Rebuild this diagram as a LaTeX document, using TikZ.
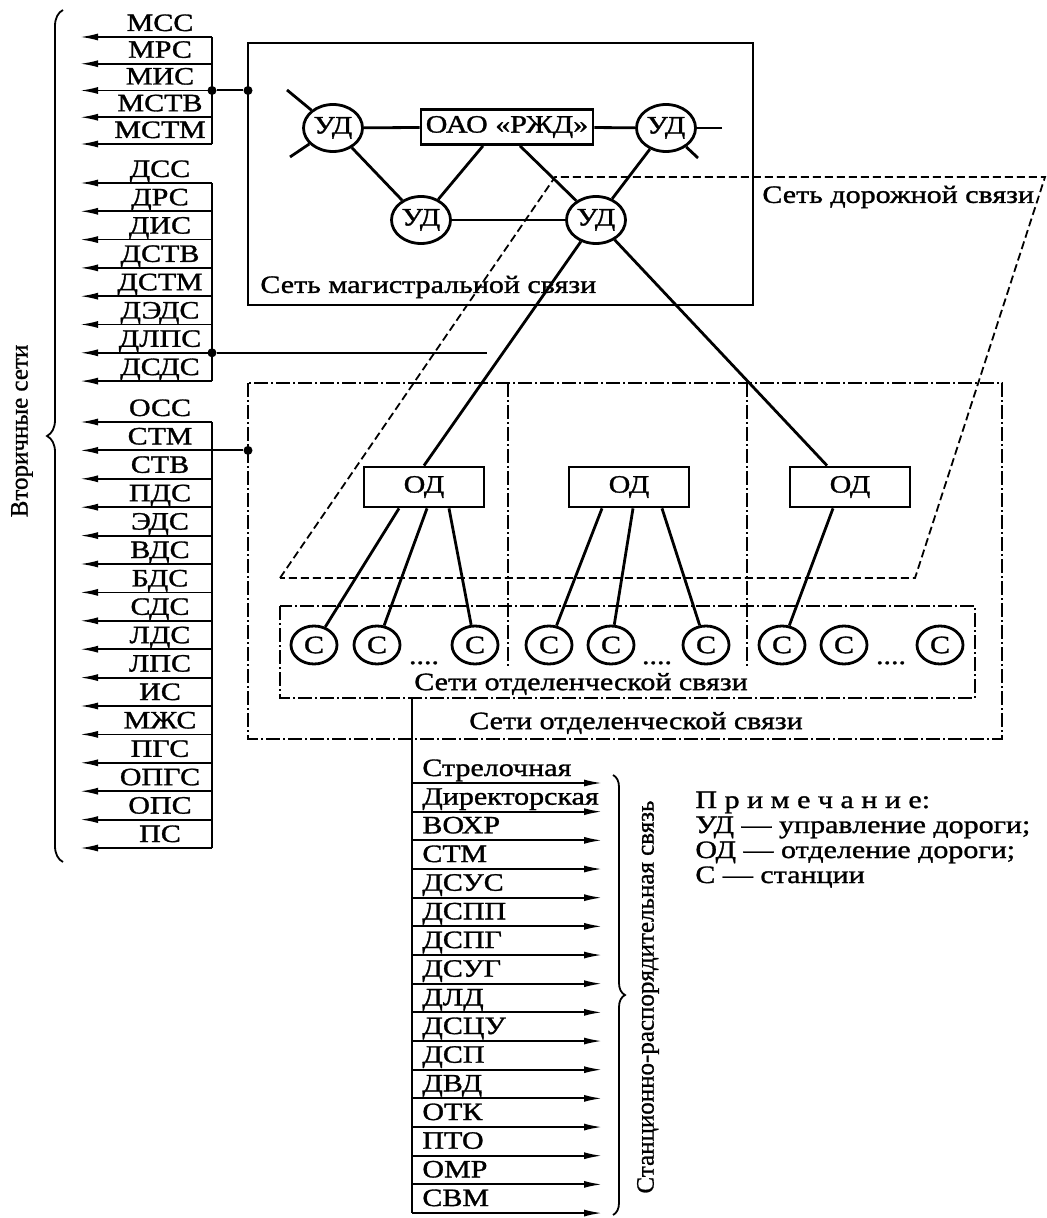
\documentclass[tikz,border=0pt]{standalone}
\usepackage{fontspec}
\setmainfont{Liberation Serif}[FakeStretch=1.2,FakeBold=1.2]
\newfontfamily\rotfont{Liberation Serif}[FakeBold=1]
\usetikzlibrary{arrows.meta,decorations.pathreplacing,shapes.geometric,positioning}

\tikzset{
  net/.style={line width=1.4pt},
  udnode/.style={ellipse,draw,line width=1.4pt,minimum width=29.5pt,minimum height=23.5pt,inner sep=0pt},
  stnode/.style={ellipse,draw,line width=1.4pt,minimum width=23pt,minimum height=19pt,inner sep=0pt},
  odbox/.style={draw,line width=1.4pt,minimum width=60pt,minimum height=20pt,inner sep=0pt},
  lbl/.style={inner sep=0pt,anchor=base},
  larrow/.style={line width=0.9pt,-{Latex[length=9pt,width=3.5pt]}},
  roaddash/.style={line width=0.9pt,dash pattern=on 4pt off 2pt},
  divdash/.style={line width=0.9pt,dash pattern=on 7pt off 1.5pt on 1pt off 1.5pt},
  jdot/.style={circle,fill,inner sep=0pt,minimum size=4.5pt},
  rotlbl/.style={rotate=90,inner sep=0pt,font=\rotfont\fontsize{12.5}{14}\selectfont},
}

\begin{document}
\begin{tikzpicture}[x=0.5pt,y=-0.5pt,font=\fontsize{12.5}{14}\selectfont]
  \useasboundingbox (0,0) rectangle (1047,1218);

  % trunk network
  \draw[net] (248,43) rectangle (753,305);
  \node[inner sep=0pt,anchor=west] (trunkname) at (260,287) {Сеть магистральной связи};
  \node[odbox,minimum width=86pt,minimum height=17.5pt] (rzd) at (507,127) {ОАО «РЖД»};
  \node[udnode] (ud1) at (333,128) {УД};
  \node[udnode] (ud2) at (666,128) {УД};
  \node[udnode] (ud3) at (421,220) {УД};
  \node[udnode] (ud4) at (596,220) {УД};
  \coordinate (ud1nw) at (287,90);
  \coordinate (ud1sw) at (290,157);
  \coordinate (ud2e) at (722,128);
  \coordinate (ud2se) at (698,158);
  \draw[net] (ud1nw) -- (ud1);
  \draw[net] (ud1sw) -- (ud1);
  \draw[net] (ud2e) -- (ud2);
  \draw[net] (ud2se) -- (ud2);
  \draw[net] (ud1) -- (rzd);
  \draw[net] (rzd) -- (ud2);
  \draw[net] (ud1) -- (ud3);
  \draw[net] (ud3) -- (ud4);
  \draw[net] (ud2) -- (ud4);
  \draw[net] ([xshift=-12pt]rzd.south) -- (ud3);
  \draw[net] ([xshift=6.5pt]rzd.south) -- (ud4);

  % road network
  \draw[roaddash] (280,578) -- (555,177) -- (1045,177) -- (915,578) -- cycle;
  \node[inner sep=0pt,anchor=west] (roadname) at (762,197) {Сеть дорожной связи};

  % division networks
  \draw[divdash] (248,383) rectangle (1002,739);
  \draw[divdash] (508,383) -- (508,667);
  \draw[divdash] (747,383) -- (747,667);
  \draw[divdash] (280,606) rectangle (975,698);
  \node[inner sep=0pt] (innername) at (581,684) {Сети отделенческой связи};
  \node[inner sep=0pt] (outername) at (636,723) {Сети отделенческой связи};

  \node[odbox] (od1) at (424,487) {ОД};
  \node[odbox] (od2) at (629,487) {ОД};
  \node[odbox] (od3) at (850,487) {ОД};
  \foreach \cx [count=\i] in {314,377,475,549,611,706,782,844,940}
    \node[stnode] (c\i) at (\cx,645) {С};
  \foreach \dx [count=\i] in {424,657,891}
    \node[lbl] (gap\i) at (\dx,664) {....};

  \draw[net] (ud4) -- (od1.north);
  \draw[net] (ud4) -- ([xshift=-11.5pt]od3.north);
  \draw[net] ([xshift=-12.5pt]od1.south) -- (c1);
  \draw[net] ([xshift=1.5pt]od1.south) -- (c2);
  \draw[net] ([xshift=12.5pt]od1.south) -- (c3);
  \draw[net] ([xshift=-13.5pt]od2.south) -- (c4);
  \draw[net] ([xshift=2pt]od2.south) -- (c5);
  \draw[net] ([xshift=16.5pt]od2.south) -- (c6);
  \draw[net] ([xshift=-8.5pt]od3.south) -- (c7);

  % secondary networks
  \foreach \name [count=\i from 0] in {МСС,МРС,МИС,МСТВ,МСТМ}{
    \coordinate (ma\i) at (212,37+26.75*\i);
    \coordinate (mb\i) at (80,37+26.75*\i);
    \draw[larrow] (ma\i) -- (mb\i);
    \node[lbl] (mn\i) at (160,31+26.75*\i) {\name};
  }
  \draw[line width=1pt] (ma0) -- (ma4);
  \foreach \name [count=\i from 0] in {ДСС,ДРС,ДИС,ДСТВ,ДСТМ,ДЭДС,ДЛПС,ДСДС}{
    \coordinate (da\i) at (212,183+28.3*\i);
    \coordinate (db\i) at (80,183+28.3*\i);
    \draw[larrow] (da\i) -- (db\i);
    \node[lbl] (dn\i) at (160,177+28.3*\i) {\name};
  }
  \draw[line width=1pt] (da0) -- (da7);
  \foreach \name [count=\i from 0] in {ОСС,СТМ,СТВ,ПДС,ЭДС,ВДС,БДС,СДС,ЛДС,ЛПС,ИС,МЖС,ПГС,ОПГС,ОПС,ПС}{
    \coordinate (sa\i) at (212,422+28.4*\i);
    \coordinate (sb\i) at (80,422+28.4*\i);
    \draw[larrow] (sa\i) -- (sb\i);
    \node[lbl] (sn\i) at (160,416+28.4*\i) {\name};
  }
  \draw[line width=1pt] (sa0) -- (sa15);

  \node[jdot] (jm1) at (ma2) {};
  \node[jdot] (jm2) at (248,37+26.75*2) {};
  \draw[line width=1pt] (jm1) -- (jm2);
  \node[jdot] (jd) at (da6) {};
  \coordinate (roadtap) at (487,183+28.3*6);
  \draw[line width=1pt] (jd) -- (roadtap);
  \node[jdot] (js) at (248,422+28.4) {};
  \draw[line width=1pt] (sa1) -- (js);

  \coordinate (lbtop) at (63,10);
  \coordinate (lbbot) at (63,862);
  \draw[line width=0.9pt,decorate,decoration={brace,amplitude=8pt}] (lbbot) -- (lbtop);
  \node[rotlbl] (secname) at (22,431) {Вторичные сети};

  % station dispatcher links
  \foreach \name [count=\i from 0] in {Стрелочная,Директорская,ВОХР,СТМ,ДСУС,ДСПП,ДСПГ,ДСУГ,ДЛД,ДСЦУ,ДСП,ДВД,ОТК,ПТО,ОМР,СВМ}{
    \coordinate (ra\i) at (412,783+28.67*\i);
    \coordinate (rb\i) at (602,783+28.67*\i);
    \draw[larrow] (ra\i) -- (rb\i);
    \node[lbl,anchor=base west] (rn\i) at (422,776+28.67*\i) {\name};
  }
  \coordinate (ftop) at (412,698);
  \draw[line width=1pt] (ftop) -- (ra15);

  \coordinate (rbtop) at (613,775);
  \coordinate (rbbot) at (613,1215);
  \draw[line width=0.9pt,decorate,decoration={brace,amplitude=6pt}] (rbtop) -- (rbbot);
  \node[rotlbl] (stname) at (648,997) {Станционно-распорядительная связь};

  % note
  \node[lbl,anchor=base west] (note0) at (695,808) {П р и м е ч а н и е:};
  \node[lbl,anchor=base west] (note1) at (695,833) {УД — управление дороги;};
  \node[lbl,anchor=base west] (note2) at (695,858) {ОД — отделение дороги;};
  \node[lbl,anchor=base west] (note3) at (695,883) {С — станции};
\end{tikzpicture}
\end{document}
